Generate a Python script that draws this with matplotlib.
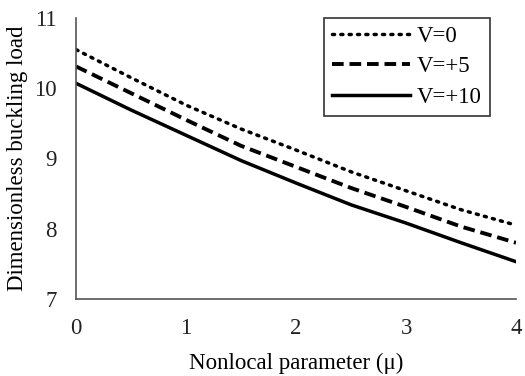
import matplotlib.pyplot as plt

plt.rcParams['font.family'] = ['Liberation Serif', 'DejaVu Serif']

mu = [0, 0.5, 1, 1.5, 2, 2.5, 3, 3.5, 4]
v0 = [10.55, 10.15, 9.76, 9.42, 9.12, 8.81, 8.54, 8.27, 8.05]
v5 = [10.31, 9.93, 9.55, 9.18, 8.88, 8.58, 8.31, 8.03, 7.80]
v10 = [10.07, 9.69, 9.33, 8.97, 8.65, 8.34, 8.08, 7.80, 7.53]

fig = plt.figure(figsize=(5.25, 3.76), dpi=100)
ax = fig.add_axes([0.145, 0.205, 0.838, 0.747])

ax.plot(mu, v0, color='black', linestyle=(0, (0.6, 1.8)), dash_capstyle='round',
        linewidth=2.5, label='V=0')
ax.plot(mu, v5, color='black', linestyle=(0, (3, 1.5)), linewidth=2.8, label='V=+5')
ax.plot(mu, v10, color='black', linestyle='-', linewidth=2.5, label='V=+10')

ax.set_xlim(0, 4)
ax.set_ylim(7, 11)
ax.set_xticks([0, 1, 2, 3, 4])
ax.set_yticks([7, 8, 9, 10, 11])
ax.tick_params(length=0, labelsize=16.5, colors='#222222')
ax.tick_params(axis='x', pad=14)
ax.tick_params(axis='y', pad=14)
for s in ['top', 'right']:
    ax.spines[s].set_visible(False)
for s in ['left', 'bottom']:
    ax.spines[s].set_color('#555555')
    ax.spines[s].set_linewidth(1.2)

ax.set_xlabel('Nonlocal parameter (\u03bc)', fontsize=16.5, labelpad=10)
ax.set_ylabel('Dimensionless buckling load', fontsize=16.5, labelpad=4)

leg = ax.legend(loc='upper right', bbox_to_anchor=(0.941, 1.0), fontsize=16.5,
                handlelength=3.4, fancybox=False, edgecolor='black',
                borderpad=0.35, labelspacing=0.4, handletextpad=0.3,
                borderaxespad=0)
leg.get_frame().set_linewidth(1.2)

fig.savefig('out.png', dpi=100)
